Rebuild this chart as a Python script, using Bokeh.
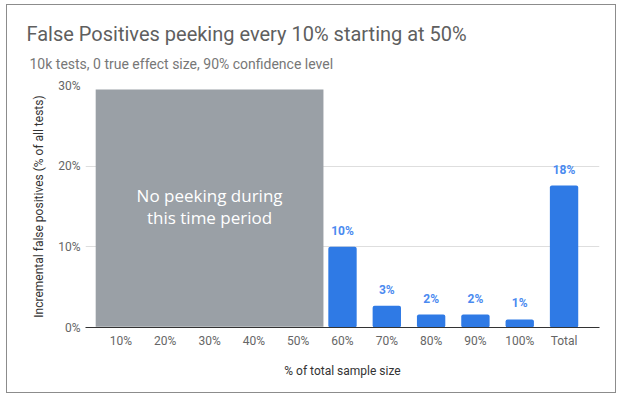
from bokeh.plotting import figure
from bokeh.models import (FactorRange, Range1d, ColumnDataSource, Title,
                          PrintfTickFormatter, FixedTicker)
from bokeh.core.properties import value
from bokeh.embed import file_html
from bokeh.resources import INLINE

# ---- data ----
categories = ["10%", "20%", "30%", "40%", "50%", "60%", "70%", "80%", "90%", "100%", "Total"]
peek_categories = ["60%", "70%", "80%", "90%", "100%", "Total"]
false_positive_pct = [10.0, 2.7, 1.6, 1.6, 1.0, 17.6]
bar_labels = ["10%", "3%", "2%", "2%", "1%", "18%"]
y_ticks = [0, 10, 20, 30]

title_text = "False Positives peeking every 10% starting at 50%"
subtitle_text = "10k tests, 0 true effect size, 90% confidence level"
no_peek_text = "No peeking during\nthis time period"

BLUE = "#2f7ae5"
LABEL_BLUE = "#4a8af0"
GRAY_BOX = "#9aa0a6"

x_range = FactorRange(factors=categories, range_padding=0.3, range_padding_units="absolute")
p = figure(x_range=x_range, y_range=Range1d(0, 30), width=610, height=389,
           output_backend="svg", toolbar_location=None,
           min_border_left=78, min_border_right=18, min_border_top=80, min_border_bottom=67,
           styles={"border": "1.5px solid #8c8c8c", "margin-left": "6px", "margin-top": "4px"})
p.outline_line_color = None
p.background_fill_color = "white"
p.border_fill_color = "white"

# no-peeking shaded region
p.quad(left=[(categories[0], -0.57)], right=[(categories[5], -0.43)],
       bottom=[0.1], top=[29.5], fill_color=GRAY_BOX, line_color=None)
p.text(x=[categories[2]], y=[15], text=[no_peek_text], text_color="white",
       text_font=value("Open Sans"), text_font_size="17px",
       text_align="center", text_baseline="middle", text_line_height=0.95)

src = ColumnDataSource(dict(x=peek_categories, top=false_positive_pct, label=bar_labels))
p.vbar(x="x", top="top", width=0.64, source=src, fill_color=BLUE, line_color=None,
       border_radius=2)
p.text(x="x", y="top", text="label", source=src, text_color=LABEL_BLUE,
       text_font=value("Roboto"), text_font_size="12px", text_font_style="bold",
       text_align="center", text_baseline="alphabetic", y_offset=-16)

# axes
p.yaxis.ticker = FixedTicker(ticks=y_ticks)
p.yaxis.formatter = PrintfTickFormatter(format="%d%%")
p.yaxis.axis_line_color = None
p.yaxis.major_tick_line_color = None
p.yaxis.minor_tick_line_color = None
p.yaxis.major_tick_out = 0
p.yaxis.major_tick_in = 0
p.yaxis.major_label_text_font = "Roboto"
p.yaxis.major_label_text_font_size = "12px"
p.yaxis.major_label_text_color = "#666666"
p.yaxis.major_label_standoff = 5
p.yaxis.axis_label = "Incremental false positives (% of all tests)"
p.yaxis.axis_label_text_font = "Roboto"
p.yaxis.axis_label_text_font_size = "12px"
p.yaxis.axis_label_text_font_style = "normal"
p.yaxis.axis_label_text_color = "#333333"
p.yaxis.axis_label_standoff = 9

p.xaxis.axis_line_color = "#333333"
p.xaxis.axis_line_width = 1.2
p.xaxis.major_tick_line_color = None
p.xaxis.minor_tick_line_color = None
p.xaxis.major_tick_out = 0
p.xaxis.major_tick_in = 0
p.xaxis.major_label_text_font = "Roboto"
p.xaxis.major_label_text_font_size = "12px"
p.xaxis.major_label_text_color = "#666666"
p.xaxis.major_label_standoff = 6
p.xaxis.axis_label = "% of total sample size"
p.xaxis.axis_label_text_font = "Roboto"
p.xaxis.axis_label_text_font_size = "12px"
p.xaxis.axis_label_text_font_style = "normal"
p.xaxis.axis_label_text_color = "#333333"
p.xaxis.axis_label_standoff = 13

p.xgrid.grid_line_color = None
p.ygrid.grid_line_color = "#dedede"

# titles (subtitle added first so it sits closer to the plot)
p.add_layout(Title(text=subtitle_text, text_font="Roboto", text_font_size="14px",
                   text_font_style="normal", text_color="#777777", align="left",
                   offset=-56, standoff=28), "above")
p.add_layout(Title(text=title_text, text_font="Roboto", text_font_size="20px",
                   text_font_style="normal", text_color="#5f5f5f", align="left",
                   offset=-59, standoff=-12), "above")

open("out.html", "w").write(file_html(p, INLINE))
